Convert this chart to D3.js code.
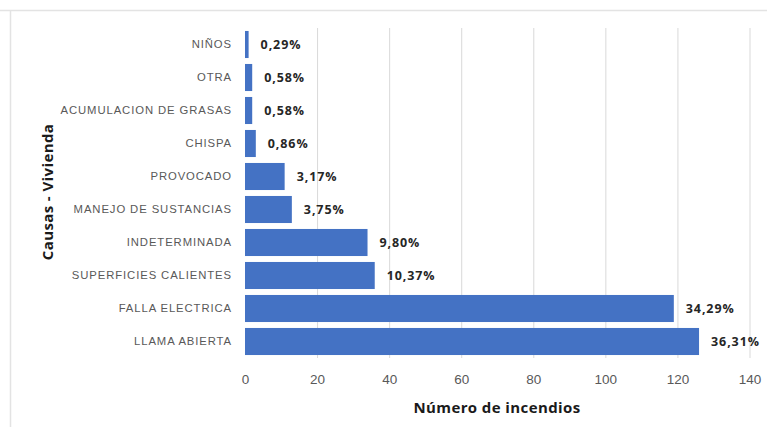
<!DOCTYPE html>
<html>
<head>
<meta charset="utf-8">
<script src="https://cdn.jsdelivr.net/npm/d3@7"></script>
<style>
  body { margin: 0; background: #fff; }
  svg { display: block; font-family: "Open Sans", "DejaVu Sans", sans-serif; }
</style>
</head>
<body>
<div class="container"></div>
<script>
const causes = ["NIÑOS", "OTRA", "ACUMULACION DE GRASAS", "CHISPA", "PROVOCADO",
  "MANEJO DE SUSTANCIAS", "INDETERMINADA", "SUPERFICIES CALIENTES", "FALLA ELECTRICA", "LLAMA ABIERTA"]
const counts = [1, 2, 2, 3, 11, 13, 34, 36, 119, 126]
const percentLabels = ["0,29%", "0,58%", "0,58%", "0,86%", "3,17%", "3,75%", "9,80%", "10,37%", "34,29%", "36,31%"]
const xTicks = [0, 20, 40, 60, 80, 100, 120, 140]

const width = 767
const height = 427
const margin = { top: 28, bottom: 69, left: 245, right: 18 }

const dataset = causes.map((c, i) => ({ cause: c, count: counts[i], pct: percentLabels[i] }))

let svg = d3.select(".container")
  .append("svg")
  .attr("width", width)
  .attr("height", height)

// outer frame (top and left edges only, as in the picture)
svg.append("line").attr("x1", 0).attr("x2", width).attr("y1", 10.5).attr("y2", 10.5)
  .attr("stroke", "#e3e3e3").attr("stroke-width", 1.5)
svg.append("line").attr("x1", 10.5).attr("x2", 10.5).attr("y1", 10).attr("y2", height)
  .attr("stroke", "#e3e3e3").attr("stroke-width", 1.5)

let xScale = d3.scaleLinear()
  .domain([0, 140])
  .range([margin.left, 749.5])

let yScale = d3.scaleBand()
  .domain(causes)
  .range([margin.top, height - margin.bottom])
  .paddingInner(0.18)
  .paddingOuter(0.09)

// gridlines
svg.append("g")
  .selectAll("line")
  .data(xTicks.slice(1))
  .join("line")
  .attr("x1", d => xScale(d) + 0.5)
  .attr("x2", d => xScale(d) + 0.5)
  .attr("y1", margin.top)
  .attr("y2", height - margin.bottom)
  .attr("stroke", "#d9d9d9")
  .attr("stroke-width", 1)

// x axis
let xAxis = svg.append("g")
  .attr("transform", `translate(0, ${height - margin.bottom})`)
  .call(d3.axisBottom(xScale).tickValues(xTicks).tickSize(0).tickPadding(16))
xAxis.select(".domain").remove()
xAxis.selectAll("text")
  .attr("fill", "#595959")
  .style("font-size", "13.5px")

// y axis
let yAxis = svg.append("g")
  .attr("transform", `translate(${margin.left - 13}, 0)`)
  .call(d3.axisLeft(yScale).tickSize(0).tickPadding(0))
yAxis.select(".domain").remove()
yAxis.selectAll("text")
  .attr("fill", "#595959")
  .style("font-size", "11.3px")
  .style("letter-spacing", "0.9px")

// bars
svg.append("g")
  .selectAll("rect")
  .data(dataset)
  .join("rect")
  .attr("x", xScale(0))
  .attr("y", d => yScale(d.cause))
  .attr("width", d => xScale(d.count) - xScale(0))
  .attr("height", yScale.bandwidth())
  .attr("fill", "#4472c4")

// value labels
svg.append("g")
  .selectAll("text")
  .data(dataset)
  .join("text")
  .attr("x", d => xScale(d.count) + 12)
  .attr("y", d => yScale(d.cause) + yScale.bandwidth() / 2)
  .attr("dy", "0.35em")
  .attr("fill", "#262626")
  .style("font-size", "12.5px")
  .style("font-weight", "bold")
  .style("letter-spacing", "0.9px")
  .text(d => d.pct)

// axis titles
svg.append("text")
  .attr("x", 497)
  .attr("y", 413)
  .attr("text-anchor", "middle")
  .attr("fill", "#1a1a1a")
  .style("font-size", "15px")
  .style("font-weight", "bold")
  .style("letter-spacing", "0.4px")
  .text("Número de incendios")

svg.append("text")
  .attr("transform", "rotate(-90)")
  .attr("x", -192)
  .attr("y", 53)
  .attr("text-anchor", "middle")
  .attr("fill", "#1a1a1a")
  .style("font-size", "15px")
  .style("font-weight", "bold")
  .style("letter-spacing", "0.4px")
  .text("Causas - Vivienda")
</script>
</body>
</html>
